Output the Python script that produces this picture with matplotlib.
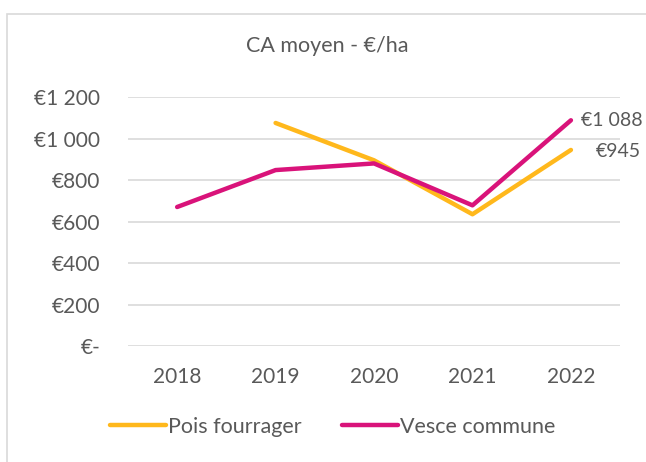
import matplotlib.pyplot as plt
from matplotlib.patches import Rectangle
from matplotlib.ticker import FuncFormatter

years = ["2018", "2019", "2020", "2021", "2022"]
pois = [None, 1075, 895, 635, 945]
vesce = [670, 848, 880, 678, 1088]

plt.rcParams['font.family'] = ['Lato', 'DejaVu Sans']
grey = "#595959"

fig = plt.figure(figsize=(6.46, 4.62), dpi=100)
ax = fig.add_axes([0.198, 0.251, 0.762, 0.539])

# frame around the chart like in the spreadsheet export
fig.patches.append(Rectangle((7 / 646, -0.1), 1.0, 1 - 14 / 462 + 0.1, transform=fig.transFigure,
                             fill=False, edgecolor="#d9d9d9", linewidth=1.2))

x = list(range(len(years)))
px = [i for i, v in zip(x, pois) if v is not None]
pv = [v for v in pois if v is not None]
ax.plot(px, pv, color="#FFB81C", linewidth=3.2, solid_capstyle="round", label="Pois fourrager")
ax.plot(x, vesce, color="#D9137A", linewidth=3.2, solid_capstyle="round", label="Vesce commune")

def euro(v, pos):
    if v == 0:
        return "€-"
    return "€" + f"{int(v):,}".replace(",", " ")

ax.set_ylim(0, 1200)
ax.set_yticks(range(0, 1201, 200))
ax.yaxis.set_major_formatter(FuncFormatter(euro))
ax.set_xlim(-0.5, 4.5)
ax.set_xticks(x)
ax.set_xticklabels(years)
ax.grid(axis="y", color="#d9d9d9", linewidth=1.2)
ax.set_axisbelow(True)
for s in ax.spines.values():
    s.set_visible(False)
ax.tick_params(length=0, labelsize=15, colors=grey)
ax.tick_params(axis="y", pad=20)
ax.tick_params(axis="x", pad=15)

ax.annotate(euro(vesce[-1], None), (4, vesce[-1]), xytext=(7, 0), textcoords="offset points",
            va="center", ha="left", fontsize=14, color=grey)
ax.annotate(euro(pois[-1], None), (4, pois[-1]), xytext=(18, -1), textcoords="offset points",
            va="center", ha="left", fontsize=14, color=grey)

fig.text(0.506, 1 - 46 / 462, "CA moyen - €/ha", ha="center", va="center", fontsize=15.5, color=grey)

leg = fig.legend(loc="center", bbox_to_anchor=(0.515, 1 - 427 / 462), ncol=2, frameon=False,
                 fontsize=15.5, handlelength=2.6, handletextpad=0.1, columnspacing=1.9)
for t in leg.get_texts():
    t.set_color(grey)

fig.savefig("out.png", dpi=100)
